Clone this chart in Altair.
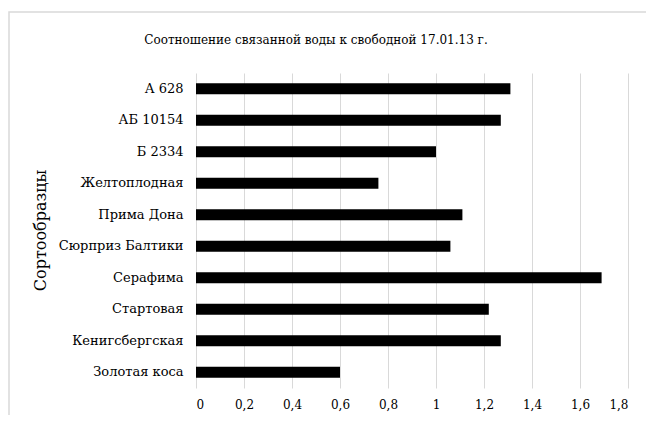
import altair as alt
import pandas as pd

categories = ["А 628", "АБ 10154", "Б 2334", "Желтоплодная", "Прима Дона",
              "Сюрприз Балтики", "Серафима", "Стартовая", "Кенигсбергская", "Золотая коса"]
values = [1.31, 1.27, 1.00, 0.76, 1.11, 1.06, 1.69, 1.22, 1.27, 0.60]
x_ticks = [0, 0.2, 0.4, 0.6, 0.8, 1.0, 1.2, 1.4, 1.6, 1.8]
title_text = ["Соотношение связанной воды к свободной 17.01.13 г."]

df = pd.DataFrame({"sort": categories, "val": values})
df_title = pd.DataFrame({"t": title_text})
FONT = "DejaVu Serif"

bars = alt.Chart(df).mark_bar(color="black", size=11).encode(
    x=alt.X("val:Q", scale=alt.Scale(domain=[0, 1.8], nice=False),
            axis=alt.Axis(values=x_ticks, title=None, grid=True, gridColor="#d9d9d9",
                          gridWidth=1, domain=False, ticks=False, labelPadding=11,
                          labelFont=FONT, labelFontSize=12, labelColor="#000000",
                          labelExpr="replace(format(datum.value, '~g'), '.', ',')")),
    y=alt.Y("sort:N", sort=categories,
            axis=alt.Axis(title="Сортообразцы", titleFont=FONT, titleFontSize=16,
                          titleFontWeight="normal", titleColor="#000000",
                          titleX=-156, titleY=157, titleAngle=-90, titleBaseline="middle",
                          domain=False, ticks=False, labelPadding=13,
                          labelFont=FONT, labelFontSize=13, labelColor="#000000", grid=False)),
)

frame = alt.Chart(df_title).mark_rect(fill=None, stroke="#d9d9d9", strokeWidth=1.5).encode(
    x=alt.value(-187), x2=alt.value(470), y=alt.value(-61), y2=alt.value(380)
)

title = alt.Chart(df_title).mark_text(font=FONT, fontSize=12, color="#000000",
                                      align="center", baseline="middle").encode(
    text="t:N", x=alt.value(120), y=alt.value(-33)
)

chart = alt.layer(bars, frame, title).properties(
    width=432, height=315,
    autosize=alt.AutoSizeParams(type="none"),
    padding={"left": 188, "top": 65, "right": 18, "bottom": 27},
).configure_view(stroke=None)

chart.save("out.html", embed_options={"renderer": "svg", "actions": False})
